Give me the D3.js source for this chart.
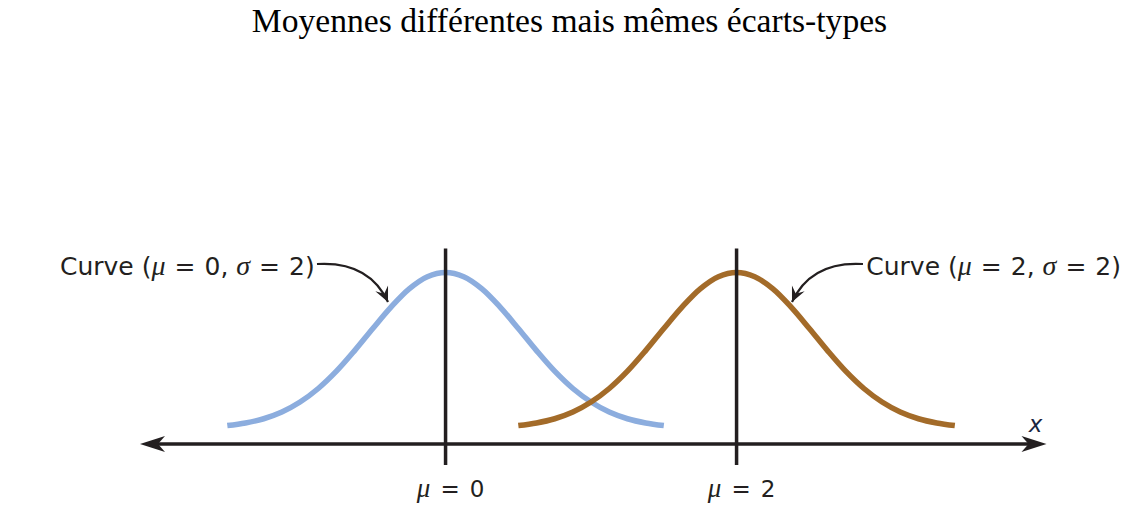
<!DOCTYPE html>
<html>
<head>
<meta charset="utf-8">
<script src="https://cdn.jsdelivr.net/npm/d3@7"></script>
<style>
  html, body { margin: 0; padding: 0; background: #fff; }
  svg { display: block; }
</style>
</head>
<body>
<svg id="chart" width="1133" height="506"></svg>
<script>
// ---------- data ----------
const title = "Moyennes différentes mais mêmes écarts-types";
const means = [0, 2];
const sigmas = [2, 2];
const seriesColors = ["#8cadde", "#a36b29"];
// curve shape: offset from the mean (x units) and relative height
const shapeOffsets = [-1.5, -1.375, -1.25, -1.125, -1.0, -0.875, -0.75, -0.625, -0.5, -0.375, -0.25, -0.125, 0,
                      0.125, 0.25, 0.375, 0.5, 0.625, 0.75, 0.875, 1.0, 1.125, 1.25, 1.375, 1.5];
const shapeHeights = [0.018, 0.035, 0.062, 0.105, 0.169, 0.256, 0.367, 0.499, 0.641, 0.778, 0.895, 0.973, 1,
                      0.973, 0.895, 0.778, 0.641, 0.499, 0.367, 0.256, 0.169, 0.105, 0.062, 0.035, 0.018];
const axisExtent = [-2.1, 4.13];
const axisLabel = "x";

// ---------- scales ----------
const svg = d3.select("#chart");
const x = d3.scaleLinear().domain(axisExtent).range([140, 1046.5]);
const y = d3.scaleLinear().domain([-0.1, 1]).range([444, 272.5]);
const ink = "#231f20";

// title
svg.append("text")
  .attr("x", 569.5).attr("y", 32)
  .attr("text-anchor", "middle")
  .attr("font-family", "'Liberation Serif', 'Times New Roman', serif")
  .attr("font-size", 33.6)
  .attr("fill", "#000")
  .text(title);

// curves
const line = d3.line()
  .x(d => x(d[0]))
  .y(d => y(d[1]))
  .curve(d3.curveCatmullRom);

means.forEach((m, i) => {
  const pts = shapeOffsets.map((o, j) => [m + o, shapeHeights[j]]);
  svg.append("path")
    .attr("d", line(pts))
    .attr("fill", "none")
    .attr("stroke", seriesColors[i])
    .attr("stroke-width", 5.5);
});

// horizontal axis with arrowheads
const axisY = y(-0.1);
const xL = x(axisExtent[0]), xR = x(axisExtent[1]);
svg.append("line")
  .attr("x1", xL + 10).attr("x2", xR - 10)
  .attr("y1", axisY).attr("y2", axisY)
  .attr("stroke", ink).attr("stroke-width", 3.5);
function axisHead(tipX, dir) {
  const L = 25, W = 8, notch = 18;
  const p = [
    [tipX, axisY],
    [tipX + dir * L, axisY - W],
    [tipX + dir * notch, axisY],
    [tipX + dir * L, axisY + W]
  ];
  svg.append("path")
    .attr("d", "M" + p.map(q => q.join(",")).join("L") + "Z")
    .attr("fill", ink);
}
axisHead(xL, 1);
axisHead(xR, -1);

svg.append("text")
  .attr("x", xR - 11).attr("y", axisY - 12)
  .attr("text-anchor", "middle")
  .attr("font-family", "'DejaVu Sans', sans-serif")
  .attr("font-style", "italic")
  .attr("font-size", 23)
  .attr("fill", "#1a2540")
  .text(axisLabel);

// helper: "sym = value" with wide math spacing
function eq(t, sym, val, symSize, gap) {
  t.append("tspan").attr("font-family", "'Liberation Serif', serif").attr("font-style", "italic").attr("font-size", symSize).text(sym);
  t.append("tspan").attr("dx", gap).text("=");
  t.append("tspan").attr("dx", gap).text(val);
}

// vertical mean lines and labels
means.forEach((m, i) => {
  svg.append("line")
    .attr("x1", x(m)).attr("x2", x(m))
    .attr("y1", y(1) - 24).attr("y2", axisY + 21)
    .attr("stroke", ink).attr("stroke-width", 3.5);
  const t = svg.append("text")
    .attr("x", x(m) + 5).attr("y", 497)
    .attr("text-anchor", "middle")
    .attr("font-family", "'DejaVu Sans', sans-serif")
    .attr("font-size", 23)
    .attr("fill", ink);
  eq(t, "μ", String(m), 27, 10);
});

// curve labels
function curveLabel(tx, anchor, i) {
  const t = svg.append("text")
    .attr("x", tx).attr("y", 275)
    .attr("text-anchor", anchor)
    .attr("font-family", "'DejaVu Sans', sans-serif")
    .attr("font-size", 25)
    .attr("fill", ink);
  t.append("tspan").text("Curve (");
  eq(t, "μ", String(means[i]), 28, 9);
  t.append("tspan").text(", ");
  eq(t, "σ", String(sigmas[i]), 28, 9);
  t.append("tspan").text(")");
  return t;
}
curveLabel(60, "start", 0);
curveLabel(1121, "end", 1);

// callout arrows
function callout(x0, y0, c1x, c1y, c2x, c2y, tx, ty) {
  svg.append("path")
    .attr("d", `M${x0},${y0}C${c1x},${c1y} ${c2x},${c2y} ${tx},${ty}`)
    .attr("fill", "none").attr("stroke", ink).attr("stroke-width", 2.2);
  const ang = Math.atan2(ty - c2y, tx - c2x);
  const L = 15, W = 7;
  const bx = tx - L * Math.cos(ang), by = ty - L * Math.sin(ang);
  const nx = -Math.sin(ang), ny = Math.cos(ang);
  const mx = tx - 0.6 * L * Math.cos(ang), my = ty - 0.6 * L * Math.sin(ang);
  svg.append("path")
    .attr("d", `M${tx},${ty}L${bx + nx * W},${by + ny * W}L${mx},${my}L${bx - nx * W},${by - ny * W}Z`)
    .attr("fill", ink);
}
callout(317, 264, 350, 262, 375, 274, 388, 302);
callout(863, 264, 830, 262, 805, 274, 792, 302);
</script>
</body>
</html>
